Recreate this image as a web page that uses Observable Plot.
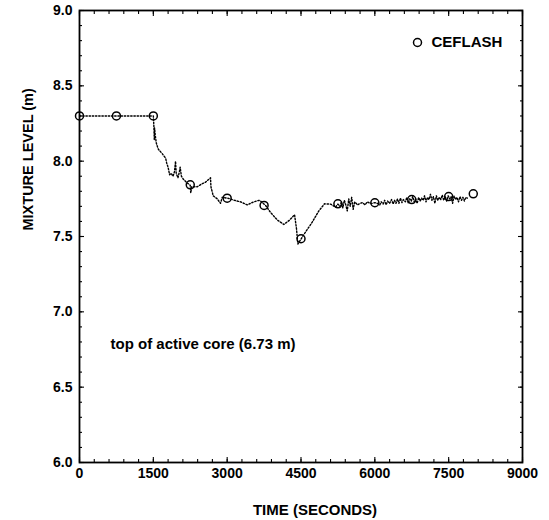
<!DOCTYPE html>
<html>
<head>
<meta charset="utf-8">
<script src="https://cdn.jsdelivr.net/npm/d3@7"></script>
<script src="https://cdn.jsdelivr.net/npm/@observablehq/plot@0.6"></script>
<style>
  html, body { margin: 0; padding: 0; background: #fff; }
  #chart svg { display: block; }
</style>
</head>
<body>
<div id="chart"></div>
<script>
// Dotted trace (time in s, mixture level in m)
const traceTime = [
  0, 1500, 1510, 1520, 1525, 1540, 1560, 1600, 1680, 1750, 1770, 1800, 1830, 1860, 1900, 1930, 1951, 1965, 2000, 2030, 2045, 2070, 2110, 2170, 2250, 2260, 2280, 2390, 2490, 2560, 2662, 2670, 2717, 2798, 2865, 2900, 3014, 3150, 3272, 3408, 3542, 3643, 3678, 3780,
  3881, 4017, 4151, 4273, 4369, 4409, 4436, 4505, 4592, 4728, 4863, 4978, 5100, 5202, 5250,
  5290, 5320, 5350, 5380, 5410, 5440, 5470, 5500, 5530, 5560, 5590, 5620, 5650, 5700, 5750, 5800, 5850, 5900, 5950, 6000,
  6050, 6100, 6130, 6170, 6200, 6230, 6260, 6300, 6340, 6370, 6400, 6430, 6460, 6490, 6520, 6550, 6580, 6620, 6650, 6680,
  6710, 6740, 6770, 6800, 6830, 6860, 6890, 6920, 6950, 6980, 7010, 7040, 7070, 7100, 7130, 7160, 7190, 7220, 7250, 7280,
  7310, 7340, 7370, 7400, 7430, 7460, 7490, 7520, 7550, 7580, 7610, 7640, 7670, 7700, 7730, 7760, 7790, 7820, 7850, 7880
];
const traceLevel = [
  8.30, 8.30, 8.24, 8.14, 8.22, 8.17, 8.12, 8.08, 8.05, 8.02, 7.99, 7.96, 7.91, 7.92, 7.90, 7.93, 8.00, 7.92, 7.89, 7.93, 7.96, 7.90, 7.88, 7.86, 7.84, 7.79, 7.83, 7.83, 7.85, 7.86, 7.89, 7.83, 7.77, 7.75, 7.72, 7.76, 7.754, 7.74, 7.73, 7.71, 7.73, 7.74, 7.735, 7.706,
  7.66, 7.61, 7.58, 7.61, 7.645, 7.55, 7.45, 7.485, 7.53, 7.595, 7.67, 7.717, 7.715, 7.695, 7.715,
  7.70, 7.73, 7.69, 7.74, 7.71, 7.67, 7.75, 7.70, 7.76, 7.68, 7.73, 7.72, 7.71, 7.72, 7.725, 7.71, 7.73, 7.72, 7.72, 7.725,
  7.72, 7.71, 7.73, 7.715, 7.74, 7.71, 7.735, 7.72, 7.745, 7.715, 7.74, 7.72, 7.75, 7.72, 7.755, 7.725, 7.745, 7.73, 7.76, 7.72,
  7.75, 7.735, 7.765, 7.73, 7.75, 7.72, 7.76, 7.735, 7.755, 7.74, 7.77, 7.73, 7.76, 7.745, 7.78, 7.74, 7.765, 7.72, 7.77, 7.74,
  7.76, 7.745, 7.775, 7.74, 7.765, 7.735, 7.77, 7.75, 7.765, 7.72, 7.77, 7.745, 7.76, 7.73, 7.765, 7.74, 7.76, 7.735, 7.76, 7.755
];

// CEFLASH points
const cefTime  = [0, 750, 1500, 2250, 3000, 3750, 4500, 5250, 6000, 6750, 7500, 8000];
const cefLevel = [8.30, 8.30, 8.30, 7.843, 7.754, 7.706, 7.485, 7.717, 7.724, 7.745, 7.765, 7.783];

// Axis ticks
const xTicks = [0, 1500, 3000, 4500, 6000, 7500, 9000];
const yTicks = [6.0, 6.5, 7.0, 7.5, 8.0, 8.5, 9.0];
const xMinor = d3.range(0, 9001, 300);
const yMinor = d3.range(60, 91, 1).map(d => d / 10);

const seriesLabel = "CEFLASH";
const xLabel = "TIME (SECONDS)";
const yLabel = "MIXTURE LEVEL (m)";
const note = "top of active core (6.73 m)";

const trace = traceTime.map((t, i) => ({t, v: traceLevel[i]}));
const cef = cefTime.map((t, i) => ({t, v: cefLevel[i]}));

const font = "'Liberation Sans', Arial, Helvetica, sans-serif";
const tickAxis = (anchor, ticks, size) => {
  const off = {bottom: {dy: -size}, top: {dy: size}, left: {dx: size}, right: {dx: -size}}[anchor];
  const fn = (anchor === "bottom" || anchor === "top") ? Plot.axisX : Plot.axisY;
  return fn(ticks, {anchor, tickSize: size, fill: "none", label: null, stroke: "black", strokeWidth: 1.1, ...off});
};

const chart = Plot.plot({
  width: 549,
  height: 520,
  marginLeft: 79,
  marginRight: 27,
  marginTop: 10,
  marginBottom: 58,
  style: {fontFamily: font, fontWeight: "bold", background: "white", color: "black"},
  x: {domain: [0, 9000], label: null},
  y: {domain: [6, 9], label: null},
  marks: [
    Plot.line(trace, {x: "t", y: "v", stroke: "black", strokeWidth: 1.4, strokeDasharray: "1.4,1.8"}),
    Plot.dot(cef, {x: "t", y: "v", r: 4, stroke: "black", strokeWidth: 1.5, fill: "none"}),
    Plot.frame({stroke: "black", strokeWidth: 1.8}),
    tickAxis("bottom", xTicks, 5), tickAxis("top", xTicks, 5),
    tickAxis("bottom", xMinor, 3), tickAxis("top", xMinor, 3),
    tickAxis("left", yTicks, 5), tickAxis("right", yTicks, 5),
    tickAxis("left", yMinor, 3), tickAxis("right", yMinor, 3),
    Plot.axisX(xTicks, {anchor: "bottom", tickSize: 0, tickPadding: 6, fontSize: 14, fontWeight: "bold", label: null, tickFormat: d => String(d)}),
    Plot.axisY(yTicks, {anchor: "left", tickSize: 0, tickPadding: 7, fontSize: 14, fontWeight: "bold", label: null, tickFormat: d => d.toFixed(1)}),
    Plot.text([xLabel], {frameAnchor: "bottom", lineAnchor: "middle", dx: 14, dy: 48, fontSize: 15, fontWeight: "bold"}),
    Plot.text([yLabel], {frameAnchor: "left", rotate: -90, dx: -51, dy: -6, fontSize: 14.5, fontWeight: "bold"}),
    Plot.dot([seriesLabel], {frameAnchor: "top-right", dx: -105, dy: 32, r: 4, stroke: "black", strokeWidth: 1.5, fill: "none"}),
    Plot.text([seriesLabel], {frameAnchor: "top-right", lineAnchor: "middle", dx: -91, dy: 32, textAnchor: "start", fontSize: 15, fontWeight: "bold"}),
    Plot.text([note], {frameAnchor: "left", lineAnchor: "middle", dx: 31, dy: 108, textAnchor: "start", fontSize: 15, fontWeight: "bold"})
  ]
});
document.getElementById("chart").appendChild(chart);
</script>
</body>
</html>
